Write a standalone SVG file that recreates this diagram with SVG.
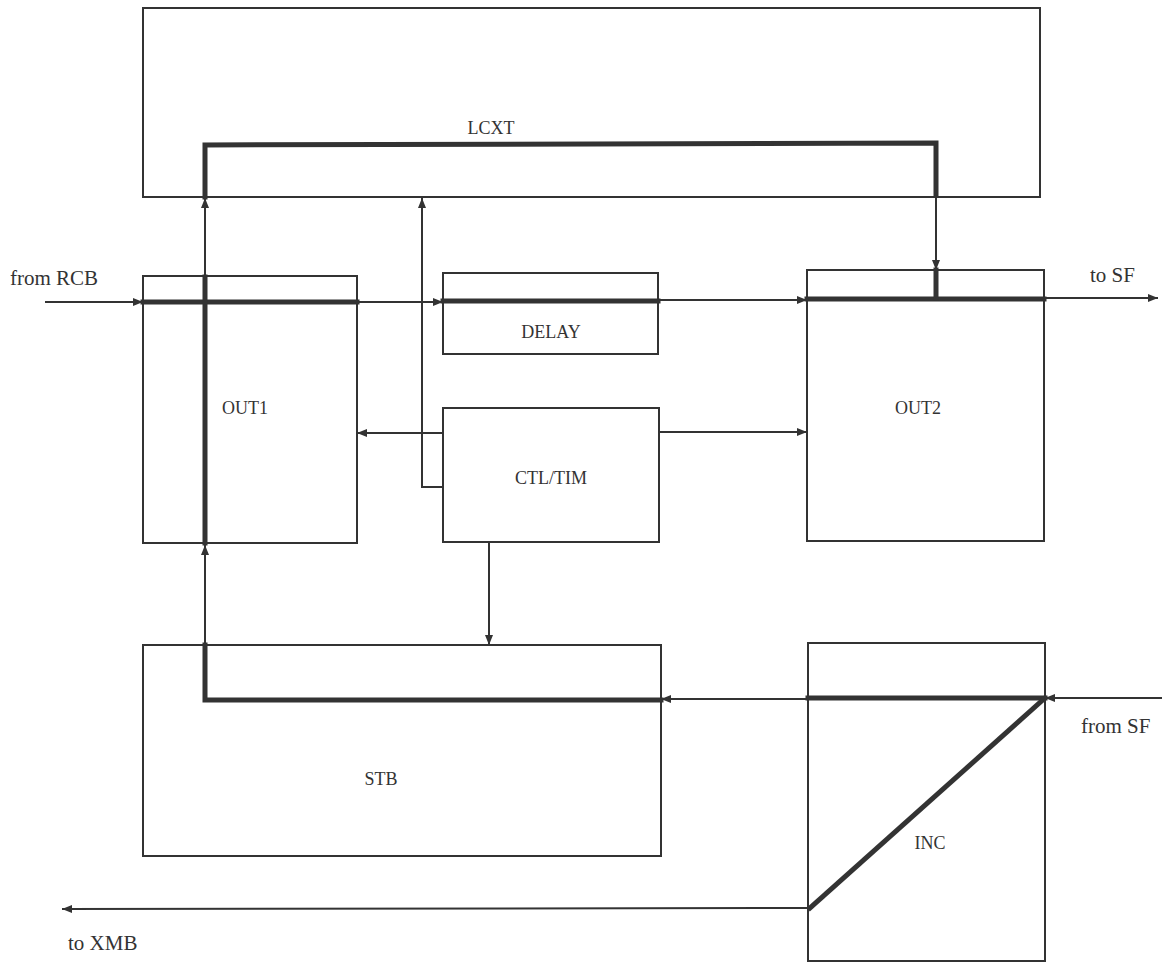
<svg xmlns="http://www.w3.org/2000/svg" width="1164" height="963" viewBox="0 0 1164 963">
<style>
.box{fill:none;stroke:#333;stroke-width:2}
.thin{fill:none;stroke:#333;stroke-width:2}
.thick{fill:none;stroke:#333;stroke-width:5;stroke-linejoin:miter;stroke-linecap:square}
.lbl{font-family:"Liberation Serif",serif;font-size:18px;fill:#333;text-anchor:middle}
.ext{font-family:"Liberation Serif",serif;font-size:21px;fill:#333}
</style>
<defs>
<marker id="ah" viewBox="0 0 10 8" refX="10" refY="4" markerWidth="10" markerHeight="8" markerUnits="userSpaceOnUse" orient="auto">
<path d="M0,0 L10,4 L0,8 Z" fill="#333"/>
</marker>
</defs>
<rect width="1164" height="963" fill="#fff"/>
<g id="LCXT"><rect class="box" x="143" y="8" width="897" height="189"/><text class="lbl" x="491" y="134">LCXT</text></g>
<g id="OUT1"><rect class="box" x="143" y="276" width="214" height="267"/><text class="lbl" x="245" y="414">OUT1</text></g>
<g id="DELAY"><rect class="box" x="443" y="273" width="215" height="81"/><text class="lbl" x="551" y="338">DELAY</text></g>
<g id="OUT2"><rect class="box" x="807" y="270" width="237" height="271"/><text class="lbl" x="918" y="414">OUT2</text></g>
<g id="CTLTIM"><rect class="box" x="443" y="408" width="216" height="134"/><text class="lbl" x="551" y="484">CTL/TIM</text></g>
<g id="STB"><rect class="box" x="143" y="645" width="518" height="211"/><text class="lbl" x="381" y="785">STB</text></g>
<g id="INC"><rect class="box" x="808" y="643" width="237" height="318"/><text class="lbl" x="930" y="849">INC</text></g>
<g id="labels">
<text class="ext" x="10" y="285">from RCB</text>
<text class="ext" x="1090" y="282">to SF</text>
<text class="ext" x="1081" y="733">from SF</text>
<text class="ext" x="68" y="950">to XMB</text>
</g>
<g id="connectors">
<line class="thin" x1="45" y1="302" x2="143" y2="302" marker-end="url(#ah)"/>
<line class="thick" x1="143" y1="302" x2="357" y2="302"/>
<line class="thin" x1="357" y1="302" x2="443" y2="302" marker-end="url(#ah)"/>
<line class="thick" x1="443" y1="301" x2="658" y2="301"/>
<line class="thin" x1="658" y1="300" x2="807" y2="300" marker-end="url(#ah)"/>
<line class="thick" x1="807" y1="299" x2="1044" y2="299"/>
<line class="thin" x1="1044" y1="298" x2="1158" y2="298" marker-end="url(#ah)"/>
<polyline class="thick" points="205,197 205,145 936,143 936,195"/>
<line class="thin" x1="936" y1="195" x2="936" y2="270" marker-end="url(#ah)"/>
<line class="thick" x1="936" y1="270" x2="936" y2="298"/>
<line class="thin" x1="205" y1="276" x2="205" y2="198" marker-end="url(#ah)"/>
<line class="thick" x1="205" y1="277" x2="205" y2="543"/>
<line class="thin" x1="205" y1="645" x2="205" y2="545" marker-end="url(#ah)"/>
<polyline class="thick" points="205,645 205,700 661,700"/>
<line class="thin" x1="1162" y1="698" x2="1045" y2="698" marker-end="url(#ah)"/>
<line class="thick" x1="1045" y1="698" x2="808" y2="698"/>
<line class="thin" x1="808" y1="699" x2="661" y2="699" marker-end="url(#ah)"/>
<line class="thick" x1="1045" y1="698" x2="810" y2="908"/>
<line class="thin" x1="810" y1="908" x2="62" y2="909" marker-end="url(#ah)"/>
<line class="thin" x1="443" y1="433" x2="357" y2="433" marker-end="url(#ah)"/>
<line class="thin" x1="659" y1="432" x2="807" y2="432" marker-end="url(#ah)"/>
<polyline class="thin" points="443,487 422,487 422,198" marker-end="url(#ah)"/>
<line class="thin" x1="489" y1="542" x2="489" y2="645" marker-end="url(#ah)"/>
</g>
</svg>
